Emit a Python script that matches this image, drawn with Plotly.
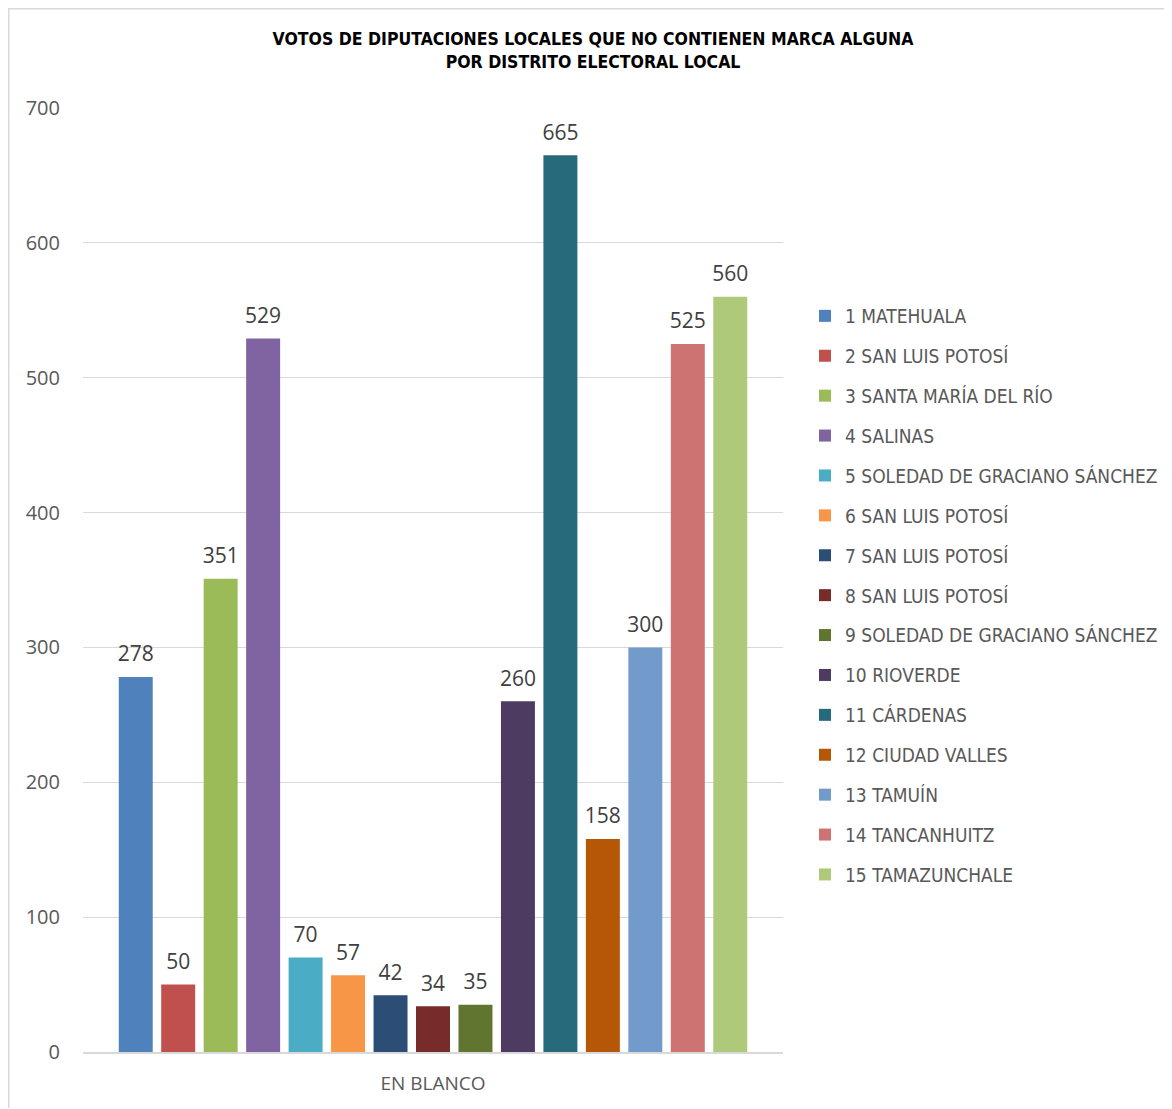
import plotly.graph_objects as go

categories = ["EN BLANCO"]
districts = [
    "1 MATEHUALA", "2 SAN LUIS POTOSÍ", "3 SANTA MARÍA DEL RÍO", "4 SALINAS",
    "5 SOLEDAD DE GRACIANO SÁNCHEZ", "6 SAN LUIS POTOSÍ", "7 SAN LUIS POTOSÍ",
    "8 SAN LUIS POTOSÍ", "9 SOLEDAD DE GRACIANO SÁNCHEZ", "10 RIOVERDE",
    "11 CÁRDENAS", "12 CIUDAD VALLES", "13 TAMUÍN", "14 TANCANHUITZ", "15 TAMAZUNCHALE",
]
votes = [278, 50, 351, 529, 70, 57, 42, 34, 35, 260, 665, 158, 300, 525, 560]
colors = [
    "#4F81BD", "#C0504D", "#9BBB59", "#8064A2", "#4BACC6", "#F79646", "#2C4D75",
    "#772C2A", "#5F7530", "#4D3B62", "#276A7C", "#B65708", "#729ACA", "#CD7371", "#AFC97A",
]
y_ticks = [0, 100, 200, 300, 400, 500, 600, 700]

# page has an 8px body margin; figure coordinates are offset by it
OFF = 8
W, H = 1164, 1100
L, R, T, B = 83 - OFF, 783 - OFF, 108 - OFF, 1052 - OFF

NARROW = "DejaVu Sans Condensed, Liberation Sans Narrow, Liberation Sans, sans-serif"
BODY = "Open Sans, Noto Sans, sans-serif"
GAP = 0.09

fig = go.Figure()
for i, (name, v, c) in enumerate(zip(districts, votes, colors)):
    fig.add_trace(go.Bar(
        x=categories, y=[v], name=name, legendgroup=name, offsetgroup=str(i),
        marker=dict(color=c, line=dict(width=0)),
    ))
# value labels, grouped like the bars
for i, (name, v) in enumerate(zip(districts, votes)):
    fig.add_trace(go.Scatter(
        x=categories, y=[v], mode="markers+text", offsetgroup=str(i),
        text=[str(v)], textposition="top center", showlegend=False, hoverinfo="skip",
        marker=dict(size=15, color="rgba(0,0,0,0)"), cliponaxis=False,
        textfont=dict(family=BODY, size=21, color="#404040"),
    ))

def px_x(p):
    return (p - L) / (R - L)

def px_y(p):
    return (B - p) / (B - T)

fig.add_shape(type="rect", xref="paper", yref="paper",
              x0=px_x(0.75), x1=px_x(1300), y0=px_y(1300), y1=px_y(0.75),
              line=dict(color="#D9D9D9", width=1.5), fillcolor="rgba(0,0,0,0)", layer="below")

fig.update_layout(
    width=W, height=H,
    margin=dict(l=L, r=W - R, t=T, b=H - B, autoexpand=False),
    paper_bgcolor="white", plot_bgcolor="white",
    barmode="group", bargap=GAP, bargroupgap=0.2,
    scattermode="group", scattergap=GAP,
    title=dict(
        text="<b>VOTOS DE DIPUTACIONES LOCALES QUE NO CONTIENEN MARCA ALGUNA<br>POR DISTRITO ELECTORAL LOCAL</b>",
        x=px_x(585), xref="paper", xanchor="center",
        y=1 - 37 / H, yanchor="middle",
        font=dict(family=NARROW, size=17.5, color="#000000"),
    ),
    showlegend=True,
    legend=dict(
        x=px_x(797), xanchor="left", y=px_y(289), yanchor="top",
        traceorder="grouped", tracegroupgap=12.2,
        font=dict(family=NARROW, size=19, color="#595959"),
        itemwidth=30, bgcolor="rgba(0,0,0,0)",
    ),
    xaxis=dict(
        showgrid=False, showline=True, linecolor="#D9D9D9", linewidth=1.5,
        ticks="", tickfont=dict(family=BODY, size=19, color="#595959"),
        ticklabelstandoff=13,
    ),
    yaxis=dict(
        range=[0, 700], tickvals=y_ticks, showgrid=True, gridcolor="#D9D9D9", gridwidth=1.2,
        zeroline=False, showline=False, ticks="",
        tickfont=dict(family=BODY, size=20, color="#595959"),
        ticklabelstandoff=22,
    ),
)

fig.write_html("out.html")
